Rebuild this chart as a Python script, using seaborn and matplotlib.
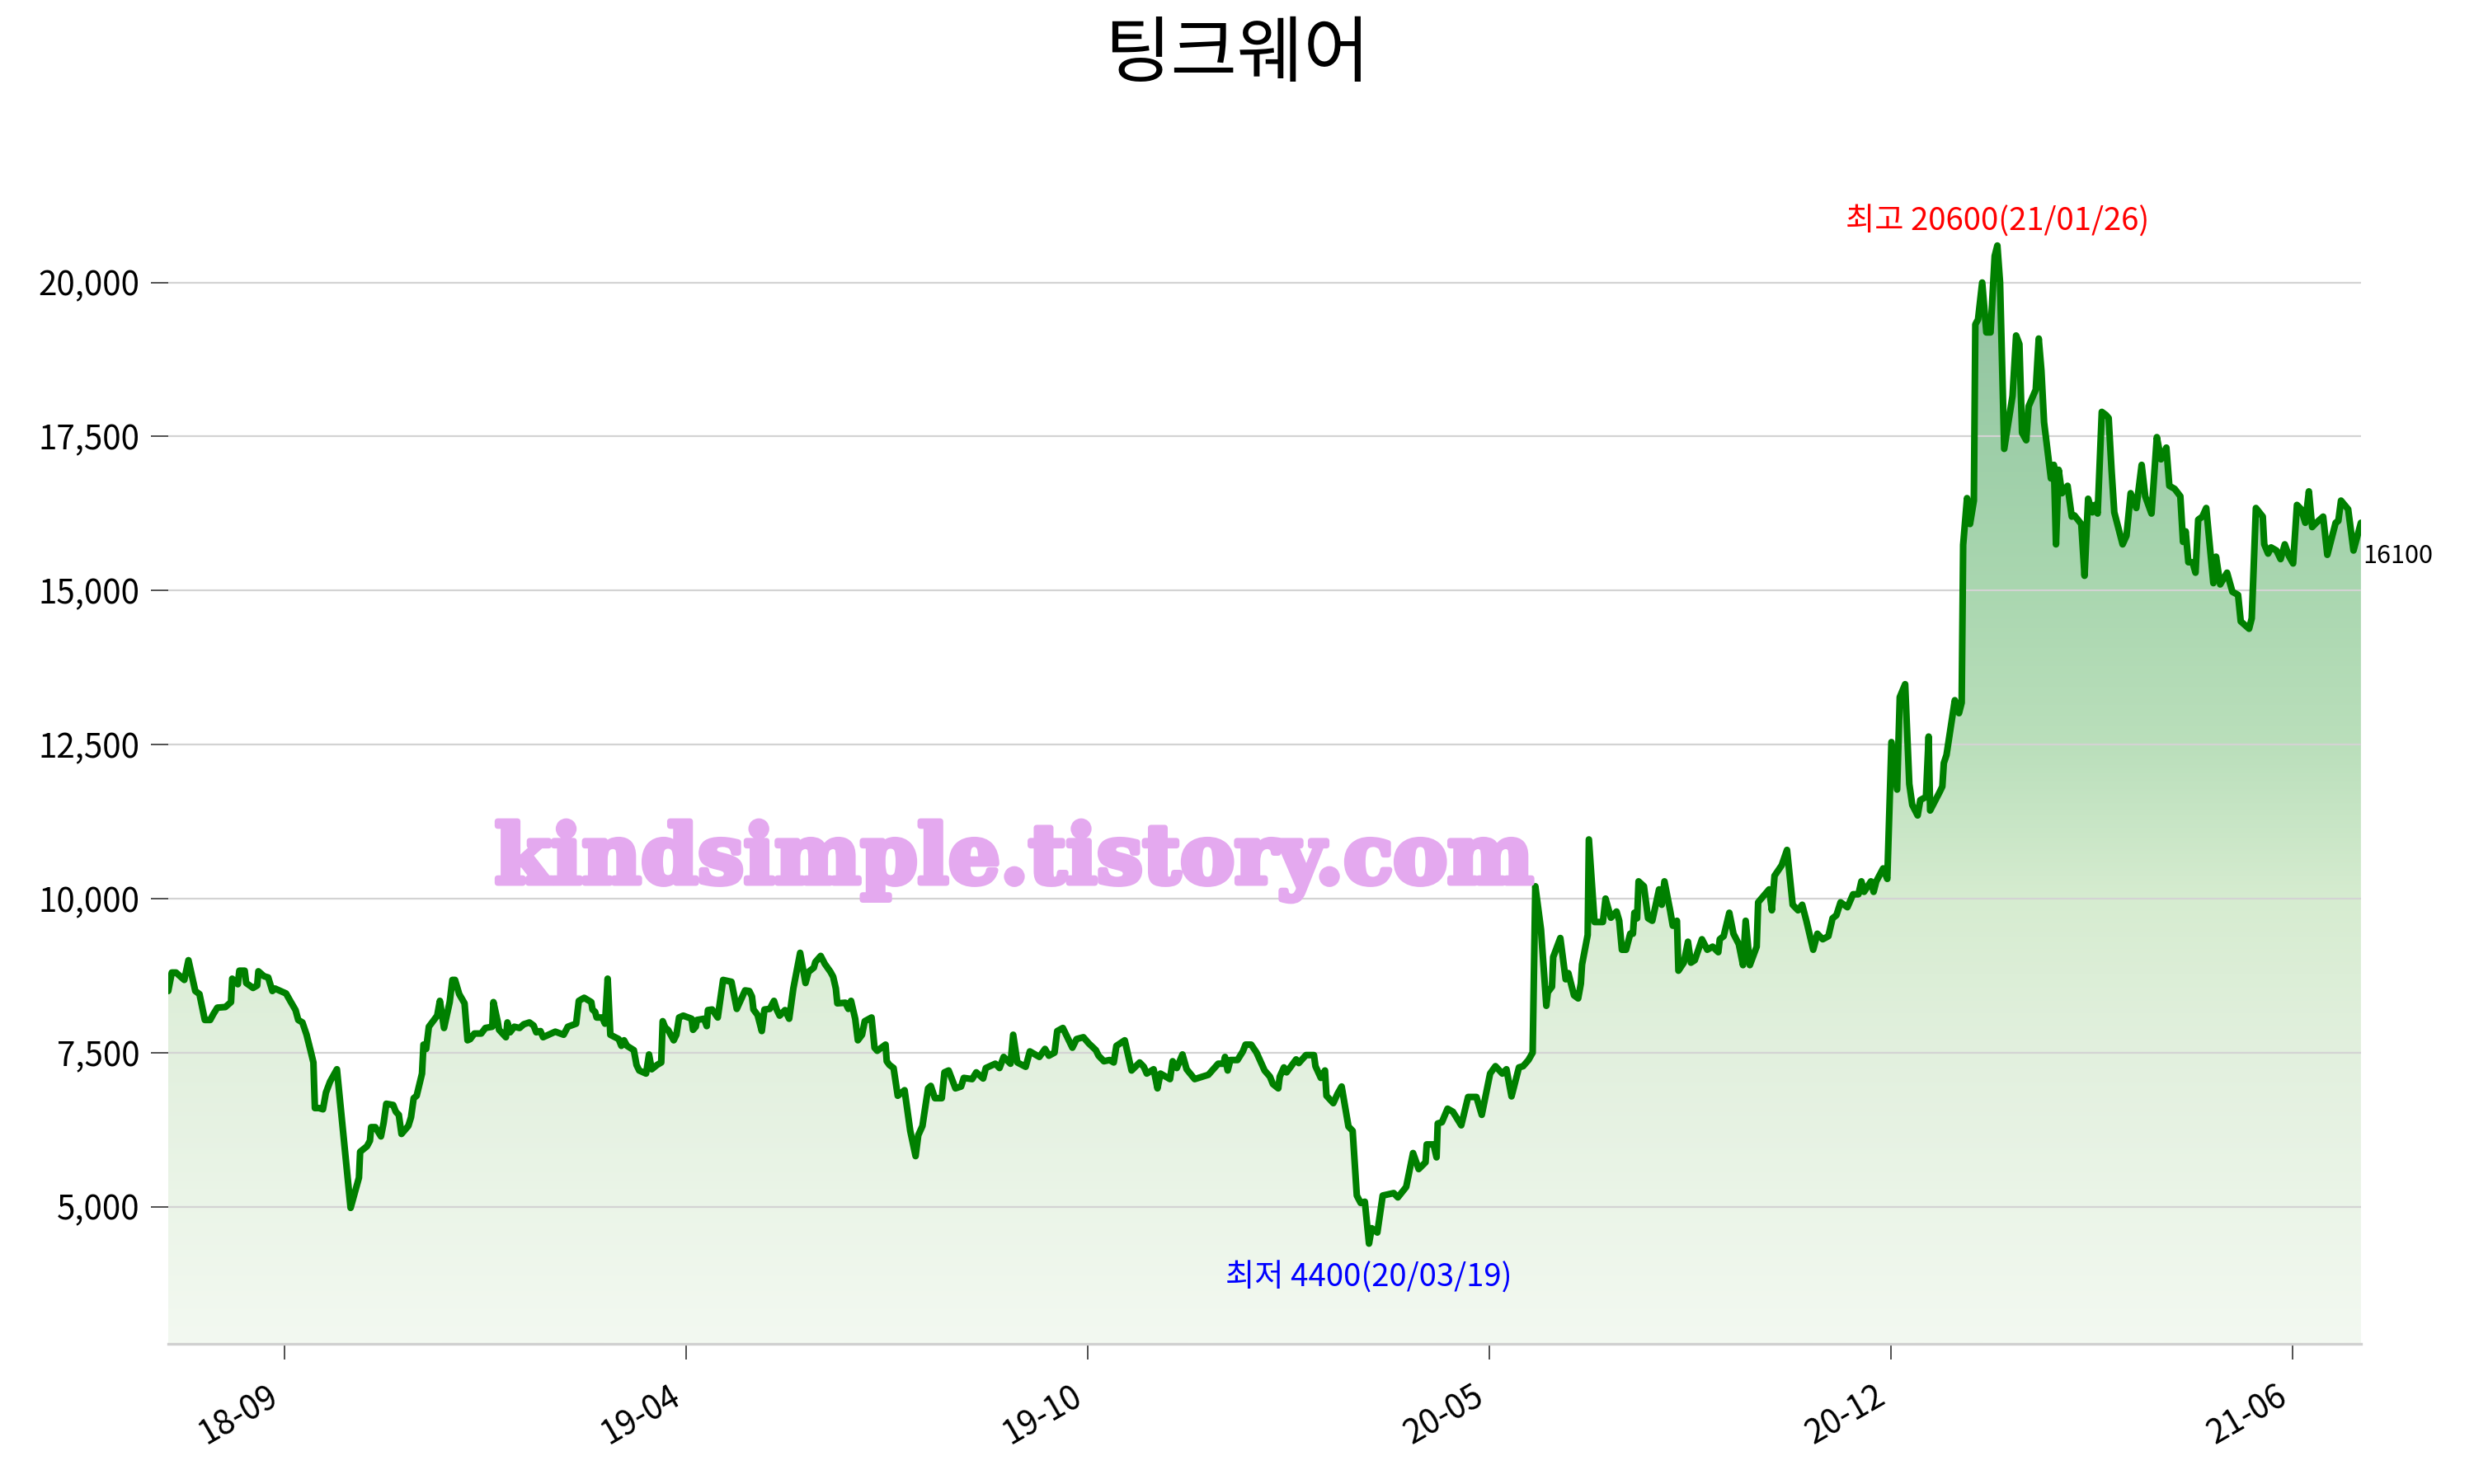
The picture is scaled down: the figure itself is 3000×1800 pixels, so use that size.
import numpy as np
import pandas as pd
import matplotlib
matplotlib.use("Agg")
import matplotlib.pyplot as plt
import matplotlib.patheffects as pe
import seaborn as sns
from matplotlib.colors import LinearSegmentedColormap
from matplotlib.ticker import FixedLocator, MultipleLocator, StrMethodFormatter

title = "팅크웨어"

# trading-day position and closing price
day = [
    0, 1.2, 2.6, 5.4, 6.8, 9.1, 10.5, 12.3, 14.1, 15.1,
    16.5, 19.2, 21.1, 21.5, 23.4, 23.9, 25.7, 26.2, 28.5, 29.9,
    30.3, 32.2, 33.6, 35.0, 35.9, 39.6, 41.0, 42.8, 43.7, 45.1,
    46.5, 47.9, 48.8, 49.3, 50.7, 52.0, 53.0, 54.4, 56.7, 61.3,
    64.1, 64.5, 66.8, 67.8, 68.2, 69.6, 71.5, 72.4, 73.3, 75.6,
    76.5, 77.5, 78.4, 80.7, 81.6, 82.5, 83.5, 85.3, 85.8, 86.7,
    87.6, 90.4, 91.3, 92.7, 94.6, 95.5, 96.4, 97.8, 99.6, 100.6,
    101.5, 102.9, 105.2, 106.6, 108.9, 109.3, 110.7, 111.2, 113.5, 114.0,
    114.9, 116.3, 118.1, 119.5, 121.4, 122.8, 123.7, 125.1, 126.0, 130.1,
    132.9, 134.3, 137.1, 138.0, 139.8, 142.2, 142.6, 143.5, 144.0, 145.9,
    146.8, 147.7, 148.6, 151.4, 152.3, 153.2, 154.2, 156.5, 157.4, 158.3,
    160.6, 161.6, 162.5, 164.3, 165.7, 166.2, 167.1, 168.0, 169.9, 170.8,
    171.7, 173.1, 175.9, 176.4, 177.3, 177.7, 180.1, 181.0, 181.4, 182.8,
    184.7, 186.5, 189.3, 191.1, 193.9, 195.3, 196.2, 196.7, 198.1, 199.5,
    200.4, 202.2, 203.6, 204.5, 205.5, 207.3, 208.7, 210.1, 212.4, 214.2,
    215.2, 217.0, 217.5, 219.3, 220.7, 222.6, 223.5, 224.4, 224.9, 227.6,
    228.6, 229.5, 230.9, 231.8, 233.2, 234.1, 236.4, 237.4, 238.3, 241.1,
    241.5, 242.4, 243.8, 245.2, 247.5, 249.4, 251.2, 252.1, 253.5, 255.4,
    256.3, 257.7, 260.0, 260.9, 262.3, 264.6, 266.5, 267.4, 270.2, 271.6,
    273.9, 274.8, 278.0, 279.4, 280.8, 283.1, 284.0, 285.4, 288.2, 289.6,
    292.8, 294.7, 296.0, 297.9, 298.8, 300.7, 303.9, 305.3, 307.6, 309.4,
    311.8, 312.7, 314.5, 316.4, 317.8, 318.7, 321.5, 323.8, 326.5, 327.9,
    328.9, 331.2, 332.5, 333.5, 336.7, 337.6, 339.0, 340.9, 342.3, 345.0,
    349.6, 352.9, 354.7, 355.2, 356.1, 357.0, 359.4, 361.2, 362.1, 364.0,
    365.8, 368.5, 370.3, 371.3, 373.1, 373.6, 375.0, 375.9, 379.1, 380.0,
    382.4, 385.1, 385.6, 387.4, 388.8, 389.3, 391.6, 393.0, 394.4, 396.7,
    398.1, 399.5, 400.8, 402.2, 403.6, 404.5, 406.4, 408.2, 411.9, 413.3,
    416.1, 418.4, 420.3, 422.6, 423.0, 425.3, 426.3, 426.7, 428.1, 430.0,
    431.8, 434.6, 436.9, 439.7, 441.5, 444.3, 446.1, 448.4, 449.8, 451.5,
    454.0, 455.4, 457.2, 458.6, 459.5, 461.4, 463.2, 463.7, 465.1, 465.5,
    467.9, 469.7, 470.6, 472.5, 473.9, 474.8, 475.2, 477.1, 477.5, 479.4,
    482.2, 483.1, 484.9, 486.8, 487.7, 488.6, 490.0, 491.4, 492.3, 492.8,
    493.7, 494.2, 496.0, 497.4, 498.8, 501.1, 502.0, 502.9, 504.8, 505.7,
    507.1, 507.6, 509.4, 510.8, 511.8, 513.1, 515.5, 517.3, 519.1, 521.0,
    521.5, 522.8, 524.7, 526.1, 527.9, 529.3, 530.2, 531.6, 533.9, 534.4,
    538.1, 539.0, 539.9, 542.3, 544.1, 546.0, 547.8, 549.2, 550.6, 552.9,
    554.3, 556.1, 558.0, 559.4, 560.7, 562.1, 564.4, 566.3, 568.1, 569.1,
    570.0, 572.3, 573.2, 574.1, 576.4, 577.8, 579.2, 581.1, 582.0, 583.8,
    585.2, 586.2, 588.0, 588.9, 590.8, 591.7, 592.2, 595.4, 596.3, 596.8,
    597.7, 600.5, 601.9, 602.8, 603.3, 604.6, 605.6, 606.9, 607.4, 608.3,
    609.7, 611.1, 612.5, 613.9, 614.8, 615.7, 617.1, 619.9, 621.1, 622.2,
    623.1, 624.5, 625.3, 627.7, 628.7, 629.6, 630.5, 632.8, 633.8, 634.5,
    635.4, 636.5, 638.4, 639.8, 640.7, 643.0, 644.1, 645.3, 646.7, 647.6,
    648.5, 649.9, 651.3, 652.2, 653.2, 654.1, 656.9, 658.2, 659.6, 661.5,
    663.3, 664.5, 666.6, 668.4, 669.8, 671.6, 672.6, 674.4, 676.3, 677.2,
    678.1, 679.0, 680.4, 681.4, 682.3, 683.7, 685.0, 687.4, 688.3, 689.7,
    692.0, 693.8, 695.7, 696.6, 699.4, 700.3, 701.7, 704.0, 704.5, 705.8,
    706.8, 708.6, 710.0, 711.4, 712.8, 714.2, 715.5, 716.9, 718.3, 719.5,
    720.6, 722.0, 724.3, 725.7, 728.5, 729.4, 730.3, 732.7, 734.5, 737.0,
]
price = [
    8500, 8800, 8800, 8680, 9000, 8500, 8450, 8030, 8030, 8120,
    8230, 8240, 8320, 8700, 8610, 8830, 8830, 8630, 8550, 8590,
    8820, 8740, 8720, 8500, 8540, 8460, 8340, 8190, 8030, 7990,
    7790, 7520, 7340, 6600, 6600, 6580, 6850, 7030, 7230, 4980,
    5470, 5890, 5980, 6070, 6290, 6290, 6140, 6360, 6670, 6650,
    6540, 6490, 6180, 6310, 6450, 6760, 6800, 7160, 7630, 7560,
    7920, 8100, 8340, 7900, 8320, 8680, 8680, 8450, 8300, 7700,
    7720, 7810, 7810, 7900, 7920, 8320, 8010, 7870, 7750, 7990,
    7830, 7920, 7900, 7960, 7990, 7940, 7830, 7850, 7750, 7840,
    7790, 7920, 7970, 8340, 8390, 8320, 8200, 8160, 8070, 8070,
    7970, 8700, 7790, 7720, 7610, 7700, 7610, 7540, 7300, 7210,
    7160, 7470, 7230, 7300, 7340, 8010, 7900, 7870, 7700, 7790,
    8070, 8100, 8050, 7870, 7920, 8030, 8050, 7930, 8190, 8200,
    8070, 8680, 8650, 8210, 8510, 8500, 8410, 8200, 8110, 7850,
    8200, 8210, 8340, 8200, 8100, 8190, 8050, 8540, 9120, 8630,
    8810, 8880, 8970, 9070, 8940, 8810, 8730, 8540, 8300, 8310,
    8210, 8340, 8050, 7700, 7790, 8010, 8070, 7580, 7530, 7630,
    7360, 7300, 7250, 6800, 6890, 6230, 5820, 6160, 6310, 6920,
    6960, 6760, 6760, 7180, 7210, 6920, 6950, 7090, 7070, 7180,
    7080, 7250, 7320, 7250, 7430, 7320, 7790, 7340, 7270, 7520,
    7430, 7560, 7450, 7500, 7850, 7900, 7580, 7720, 7750, 7650,
    7540, 7450, 7360, 7380, 7340, 7610, 7700, 7210, 7340, 7270,
    7160, 7230, 6920, 7160, 7070, 7360, 7250, 7470, 7230, 7070,
    7140, 7320, 7320, 7430, 7210, 7380, 7380, 7520, 7630, 7630,
    7500, 7210, 7110, 6990, 6920, 7110, 7260, 7180, 7390, 7330,
    7460, 7460, 7280, 7090, 7210, 6800, 6680, 6830, 6950, 6300,
    6230, 5180, 5060, 5080, 4400, 4650, 4580, 5180, 5220, 5150,
    5320, 5870, 5610, 5720, 6010, 6010, 5800, 6350, 6370, 6590,
    6540, 6320, 6780, 6780, 6490, 7160, 7280, 7160, 7230, 6790,
    7260, 7280, 7380, 7500, 10200, 9500, 8260, 8480, 8570, 9050,
    9360, 8690, 8790, 8430, 8380, 8620, 8930, 9410, 10960, 9620,
    9620, 10000, 9690, 9790, 9640, 9170, 9170, 9430, 9430, 9770,
    9680, 10280, 10200, 9680, 9640, 10150, 9900, 10280, 9810, 9560,
    9640, 8830, 8960, 9300, 8960, 9000, 9340, 9170, 9220, 9130,
    9340, 9390, 9770, 9430, 9260, 8920, 9640, 8920, 9220, 9940,
    10150, 9810, 10370, 10540, 10790, 9900, 9810, 9900, 9640, 9170,
    9430, 9340, 9390, 9680, 9730, 9940, 9860, 10070, 10070, 10280,
    10110, 10280, 10110, 10280, 10490, 10320, 12540, 11770, 13270, 13480,
    11860, 11520, 11350, 11600, 11650, 12630, 11430, 11730, 11820, 12200,
    12330, 13220, 13010, 13180, 15740, 16500, 16080, 16460, 19320, 19400,
    20000, 19190, 19190, 20430, 20600, 20000, 17300, 18160, 19140, 19000,
    17560, 17440, 17990, 18260, 19090, 18570, 17730, 16820, 17040, 15750,
    16960, 16580, 16700, 16200, 16220, 16080, 15240, 16490, 16270, 16390,
    16250, 17900, 17850, 17800, 16940, 16270, 15750, 15890, 16580, 16340,
    17040, 16530, 16250, 17490, 17130, 17320, 16700, 16650, 16530, 15790,
    15960, 15460, 15460, 15290, 16150, 16200, 16340, 15120, 15550, 15100,
    15290, 14980, 14930, 14500, 14380, 14550, 16340, 16200, 15750, 15600,
    15700, 15650, 15510, 15750, 15560, 15440, 16390, 16320, 16100, 16610,
    16030, 16100, 16200, 15580, 16100, 16130, 16460, 16320, 15650, 16100,
]

tick_days = [39, 174, 309, 444, 579, 714]
tick_labels = ["18-09", "19-04", "19-10", "20-05", "20-12", "21-06"]
high_label = "최고 20600(21/01/26)"
low_label = "최저 4400(20/03/19)"
watermark = "kindsimple.tistory.com"

# fill gradient colours (bottom -> top)
grad_colors = ["#f3f9f1", "#e2f0de", "#d6ecd0", "#badfbb", "#aad7b0", "#9dcea8", "#8dbf9c"]
grad_stops = [0.0, 0.265, 0.405, 0.546, 0.686, 0.826, 1.0]

sns.set_theme(style="white")
plt.rcParams["font.family"] = ["Noto Sans CJK KR", "DejaVu Sans"]

df = pd.DataFrame({"day": day, "price": price})
assert len(day) == len(price)

fig = plt.figure(figsize=(15, 9), dpi=200)
ax = fig.add_axes([0.068, 0.0944, 0.8863, 0.7829])

pmin = df["price"].min()
pmax = df["price"].max()
ylo = pmin * 0.63
yhi = pmax * 1.05

sns.lineplot(data=df, x="day", y="price", color="green", linewidth=2.9,
             estimator=None, ax=ax, zorder=3)

poly = ax.fill_between(df["day"], df["price"], ylo, facecolor="none", edgecolor="none")
cmap = LinearSegmentedColormap.from_list("fillgrad", list(zip(grad_stops, grad_colors)))
grad = np.linspace(0, 1, 512).reshape(-1, 1)
img = ax.imshow(grad, extent=[df["day"].iloc[0], df["day"].iloc[-1], ylo, pmax],
                origin="lower", aspect="auto", cmap=cmap, zorder=1,
                interpolation="bilinear")
img.set_clip_path(poly.get_paths()[0], transform=ax.transData)

ax.set_xlim(df["day"].iloc[0], df["day"].iloc[-1])
ax.set_ylim(ylo, yhi)

ax.yaxis.set_major_locator(MultipleLocator(2500))
ax.yaxis.set_major_formatter(StrMethodFormatter("{x:,.0f}"))
ax.xaxis.set_major_locator(FixedLocator(tick_days))
ax.set_xticklabels(tick_labels)

ax.set_axisbelow("line")
ax.yaxis.grid(True, color="#d3d3d3", linewidth=0.8)
ax.xaxis.grid(False)

for s in ["top", "right", "left"]:
    ax.spines[s].set_visible(False)
ax.spines["bottom"].set_color("#d0d0d0")
ax.spines["bottom"].set_linewidth(1.2)

ax.tick_params(axis="y", left=True, length=7.5, width=0.6, color="#333333",
               pad=5.0, labelsize=14.5, labelcolor="black")
ax.tick_params(axis="x", bottom=True, length=7, width=0.6, color="#333333",
               pad=8.5, labelsize=14.5, labelcolor="black", labelrotation=30)
for lbl in ax.get_xticklabels():
    lbl.set_ha("right")
ax.set_xlabel("")
ax.set_ylabel("")

imax = int(df["price"].idxmax())
imin = int(df["price"].idxmin())
ax.annotate(high_label, xy=(df["day"][imax], df["price"][imax]), xytext=(0, 6.5),
            textcoords="offset points", ha="center", va="baseline",
            color="red", fontsize=13.8, zorder=5)
ax.annotate(low_label, xy=(df["day"][imin], df["price"][imin]), xytext=(0, -18.7),
            textcoords="offset points", ha="center", va="baseline",
            color="blue", fontsize=13.8, zorder=5)
ax.annotate(f"{df['price'].iloc[-1]}", xy=(df["day"].iloc[-1], df["price"].iloc[-1]),
            xytext=(1, -9), textcoords="offset points", ha="left", va="top",
            color="black", fontsize=11, annotation_clip=False, zorder=5)

fig.text(0.5, 0.963, title, ha="center", va="center", fontsize=31.5, color="black")
wm_color = "#e4a9ef"
fig.text(0.41, 0.420, watermark, ha="center", va="center", fontsize=35.5,
         family="DejaVu Serif", fontweight="bold", color=wm_color, zorder=6,
         path_effects=[pe.withStroke(linewidth=2.5, foreground=wm_color)])

fig.savefig("out.png", dpi=200)
